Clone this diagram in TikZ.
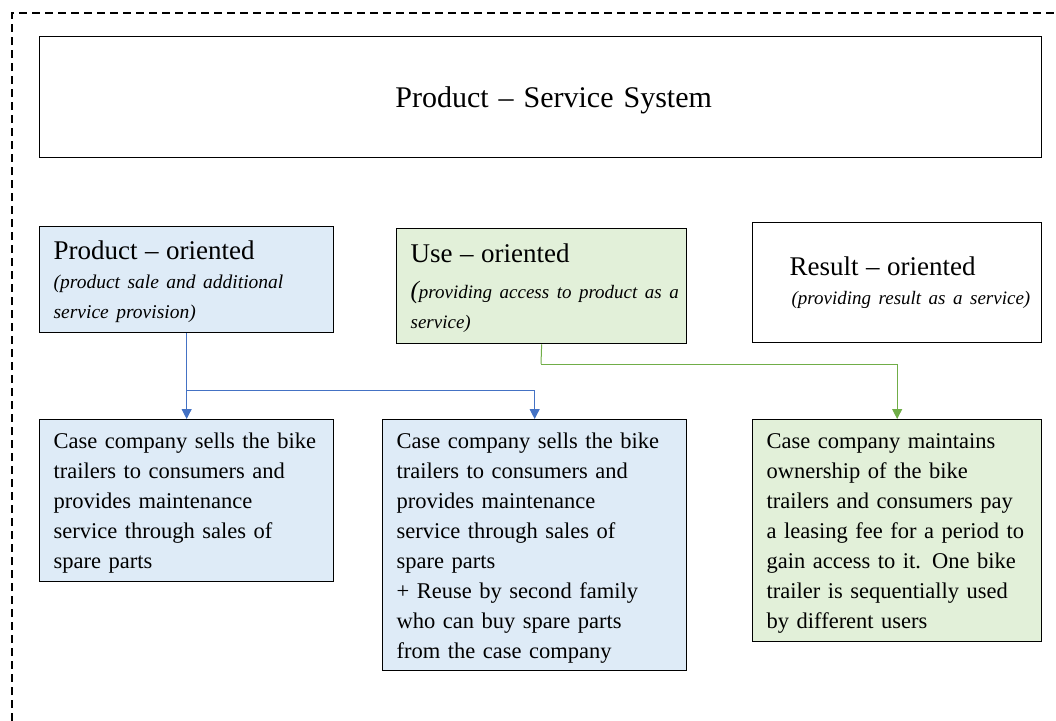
\documentclass[tikz,border=0pt]{standalone}
\usepackage{fontspec}
\setmainfont{Liberation Serif}
\usetikzlibrary{arrows.meta}
\definecolor{fillblue}{HTML}{DEEBF7}
\definecolor{fillgreen}{HTML}{E2F0D9}
\definecolor{lineblue}{HTML}{4472C4}
\definecolor{linegreen}{HTML}{70AD47}
\newcommand{\bodysize}{\fontsize{22.5}{30}\selectfont}
\newcommand{\headsize}{\fontsize{27}{32}\selectfont}
\newcommand{\subsize}{\fontsize{19}{30}\selectfont\itshape}
% one line of text that is never broken
\newcommand{\nowrap}[1]{\makebox[0pt][l]{#1}}
% invisible strut that lowers a block of text a little
\newcommand{\topstrut}[1]{\rule{0pt}{#1}}
\begin{document}
\begin{tikzpicture}[x=1pt,y=-1pt,
  box/.style={draw=black, line width=1.3pt, rectangle, anchor=north west,
    inner xsep=14pt, inner ysep=0pt, align=left, font=\bodysize},
  link/.style={line width=1pt, -{Triangle[width=10pt,length=10pt]}},
  plain link/.style={line width=1pt}]
\useasboundingbox (0,0) rectangle (1056,720);

% dashed frame around the whole system
\draw[line width=1.3pt, dash pattern=on 8pt off 5pt] (12,760) -- (12,13) -- (1100,13);

% title
\node[box, minimum width=1002pt, minimum height=121pt, text width=974pt, align=center,
  font=\fontsize{30}{36}\selectfont] (title) at (39,36) {\topstrut{27pt}\hspace*{26pt}Product -- Service System};

% categories
\node[box, fill=fillblue, minimum width=294pt, minimum height=106pt, text width=266pt] (prod) at (39,226)
  {\topstrut{23pt}\nowrap{\headsize Product -- oriented}\\[-1pt]
   \nowrap{\subsize\fontsize{19.5}{30}\selectfont (product sale and additional}\\
   \nowrap{\subsize\fontsize{19.5}{30}\selectfont service provision)}};
\node[box, fill=fillgreen, minimum width=290pt, minimum height=115pt, text width=262pt] (use) at (396,228)
  {\topstrut{23pt}\nowrap{\headsize Use -- oriented}\\[6pt]
   \nowrap{\subsize{\fontsize{25}{30}\selectfont(}providing access to product as a}\\
   \nowrap{\subsize service)}};
\node[box, minimum width=289pt, minimum height=120pt, text width=261pt] (res) at (752,222)
  {\nowrap{\headsize\hspace*{23pt}Result -- oriented}\\[-1pt]
   \nowrap{\subsize\hspace*{25pt}(providing result as a service)}};

% cases
\node[box, fill=fillblue, minimum width=294pt, minimum height=162pt, text width=266pt] (c1) at (39,419)
  {\topstrut{21pt}\nowrap{Case company sells the bike}\\
   \nowrap{trailers to consumers and}\\
   \nowrap{provides maintenance}\\
   \nowrap{service through sales of}\\
   \nowrap{spare parts}};
\node[box, fill=fillblue, minimum width=304pt, minimum height=251pt, text width=276pt] (c2) at (382,419)
  {\topstrut{21pt}\nowrap{Case company sells the bike}\\
   \nowrap{trailers to consumers and}\\
   \nowrap{provides maintenance}\\
   \nowrap{service through sales of}\\
   \nowrap{spare parts}\\
   \nowrap{+ Reuse by second family}\\
   \nowrap{who can buy spare parts}\\
   \nowrap{from the case company}};
\node[box, fill=fillgreen, minimum width=289pt, minimum height=222pt, text width=261pt] (c3) at (752,419)
  {\topstrut{21pt}\nowrap{Case company maintains}\\
   \nowrap{ownership of the bike}\\
   \nowrap{trailers and consumers pay}\\
   \nowrap{a leasing fee for a period to}\\
   \nowrap{gain access to it. One bike}\\
   \nowrap{trailer is sequentially used}\\
   \nowrap{by different users}};

% connectors
\coordinate (bj) at (186,390);
\coordinate (gj) at (541,364);
\draw[link, draw=lineblue] (prod.south) -- (c1.north);
\draw[link, draw=lineblue] (bj) -| (c2.north);
\draw[plain link, draw=linegreen] (use.south) -- (gj);
\draw[link, draw=linegreen] (gj) -| (c3.north);
\end{tikzpicture}
\end{document}
